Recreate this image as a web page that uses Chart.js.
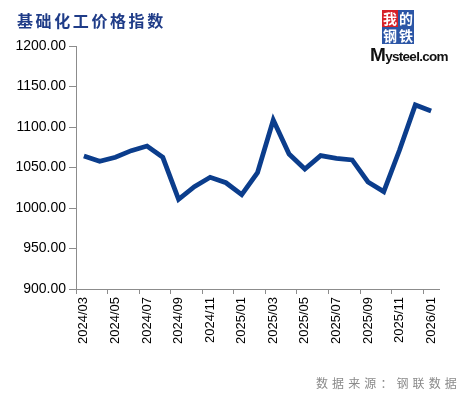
<!DOCTYPE html>
<html>
<head>
<meta charset="utf-8">
<script src="https://cdn.jsdelivr.net/npm/chart.js@4"></script>
<style>
  html, body { margin: 0; padding: 0; background: #fff; }
  #wrap { position: relative; width: 463px; height: 397px; overflow: hidden; }
  #c { position: absolute; left: 0; top: 0; }
  #title { position: absolute; left: 17px; top: 8px; font-family: "Noto Sans CJK SC"; font-weight: bold; font-size: 16px; letter-spacing: 2.6px; color: #1F3C88; white-space: nowrap; }
  #src { position: absolute; left: 316px; top: 374px; font-family: "Noto Sans CJK SC"; font-size: 12px; letter-spacing: 4.1px; color: #8a8a8a; white-space: nowrap; }
  .box { position: absolute; width: 16px; height: 17px; color: #fff; font-family: "Noto Sans CJK SC"; font-weight: bold; font-size: 14px; line-height: 17px; text-align: center; }
  #logo-txt { position: absolute; left: 370px; top: 44px; font-family: "Liberation Sans", Arial, sans-serif; font-weight: bold; font-size: 13.5px; color: #111; letter-spacing: -0.7px; white-space: nowrap; }
  #logo-txt .big { font-size: 19px; }
</style>
</head>
<body>
<div id="wrap">
  <canvas id="c" width="463" height="397"></canvas>
  <div id="title">基础化工价格指数</div>
  <div class="box" style="left:382px;top:10px;background:#D62128;">我</div>
  <div class="box" style="left:398px;top:10px;background:#2C56A6;">的</div>
  <div class="box" style="left:382px;top:27px;background:#2C56A6;">钢</div>
  <div class="box" style="left:398px;top:27px;background:#2C56A6;">铁</div>
  <div id="logo-txt"><span class="big">M</span>ysteel.com</div>
  <div id="src">数据来源：钢联数据</div>
</div>
<script>
const categories = ["2024/03","2024/04","2024/05","2024/06","2024/07","2024/08","2024/09","2024/10","2024/11","2024/12",
  "2025/01","2025/02","2025/03","2025/04","2025/05","2025/06","2025/07","2025/08","2025/09","2025/10",
  "2025/11","2025/12","2026/01"];
const indexValues = [1064.2,1057.6,1062.6,1070.8,1076.5,1062.6,1010.7,1026.3,1037.9,1031.2,
  1016.4,1043.6,1108.6,1066.7,1048.1,1064.6,1061.3,1059.3,1032.1,1020.2,
  1071.6,1127.2,1119.8];
const yMin = 900, yMax = 1200, yStep = 50;

const axisColor = '#8c8c8c';
new Chart(document.getElementById('c'), {
  type: 'line',
  data: {
    labels: categories,
    datasets: [{
      data: indexValues,
      borderColor: '#0B3D8C',
      borderWidth: 4.8,
      pointRadius: 0,
      tension: 0,
      fill: false,
      borderJoinStyle: 'miter',
      borderCapStyle: 'butt'
    }]
  },
  options: {
    responsive: false,
    animation: false,
    devicePixelRatio: 1,
    layout: { padding: { left: 0, right: 24, top: 46, bottom: 0 } },
    plugins: { legend: { display: false }, tooltip: { enabled: false } },
    scales: {
      x: {
        type: 'category',
        offset: true,
        afterFit: (s) => { s.height = 108; },
        border: { display: true, color: axisColor, width: 1 },
        grid: {
          offset: true,
          drawOnChartArea: false,
          drawTicks: true,
          tickLength: 5,
          color: (ctx) => (ctx.index % 2 === 0 && ctx.index < categories.length) ? axisColor : 'rgba(0,0,0,0)'
        },
        ticks: {
          autoSkip: false,
          maxRotation: 90,
          minRotation: 90,
          padding: 3,
          color: '#000',
          font: { family: '"Liberation Sans", Arial, sans-serif', size: 13 },
          callback: function(v, i) { return i % 2 === 0 ? categories[i] : ''; }
        }
      },
      y: {
        min: yMin,
        max: yMax,
        afterFit: (s) => { s.width = 76; },
        border: { display: true, color: axisColor, width: 1 },
        grid: { drawOnChartArea: false, drawTicks: true, tickLength: 7, color: axisColor },
        ticks: {
          stepSize: yStep,
          padding: 3,
          color: '#000',
          font: { family: '"Liberation Sans", Arial, sans-serif', size: 14 },
          callback: (v) => Number(v).toFixed(2)
        }
      }
    }
  }
});
</script>
</body>
</html>
